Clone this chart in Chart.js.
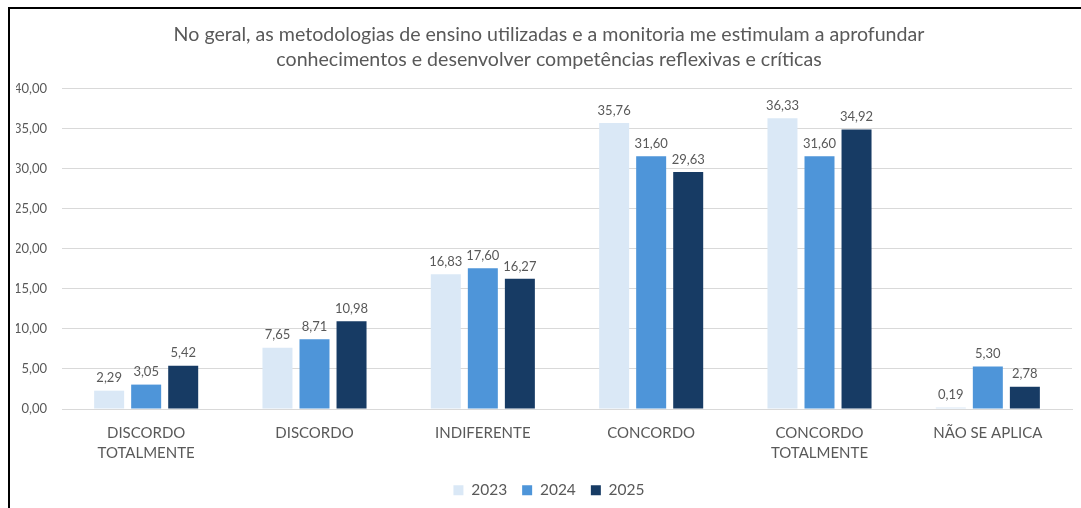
<!DOCTYPE html>
<html lang="pt">
<head>
    <meta charset="UTF-8">
    <title>Metodologias de ensino e monitoria</title>
    <style>
        body {
            margin: 0;
            padding: 0;
            background-color: #fff;
            overflow: hidden;
        }
        .frame {
            position: absolute;
            left: 8px;
            top: 7px;
            width: 1200px;
            height: 600px;
            border-left: 2px solid #000;
            border-top: 2px solid #000;
            pointer-events: none;
        }
        .chart-box {
            position: absolute;
            left: 16px;
            top: 0;
            width: 1066px;
            height: 508px;
        }
    </style>
</head>
<body>
    <div class="chart-box">
        <canvas id="chart" width="1066" height="508"></canvas>
    </div>
    <div class="frame"></div>
    <script src="https://cdn.jsdelivr.net/npm/chart.js@4/dist/chart.umd.min.js"></script>
    <script>
        const categories = [
            ['DISCORDO', 'TOTALMENTE'],
            'DISCORDO',
            'INDIFERENTE',
            'CONCORDO',
            ['CONCORDO', 'TOTALMENTE'],
            'NÃO SE APLICA'
        ];
        const years = ['2023', '2024', '2025'];
        const values2023 = [2.29, 7.65, 16.83, 35.76, 36.33, 0.19];
        const values2024 = [3.05, 8.71, 17.60, 31.60, 31.60, 5.30];
        const values2025 = [5.42, 10.98, 16.27, 29.63, 34.92, 2.78];
        const colors = ['#dae8f6', '#4e95d9', '#173b64'];

        const textColor = '#595959';
        const fontFamily = "Lato, 'Open Sans', sans-serif";

        const fmt = v => v.toFixed(2).replace('.', ',');

        // draws the number above each bar
        const valueLabels = {
            id: 'valueLabels',
            afterDatasetsDraw(chart) {
                const ctx = chart.ctx;
                ctx.save();
                ctx.font = '13px ' + fontFamily;
                ctx.fillStyle = textColor;
                ctx.textAlign = 'center';
                ctx.textBaseline = 'bottom';
                chart.data.datasets.forEach((ds, i) => {
                    const meta = chart.getDatasetMeta(i);
                    meta.data.forEach((bar, j) => {
                        ctx.fillText(fmt(ds.data[j]), bar.x, bar.y - 6);
                    });
                });
                ctx.restore();
            }
        };

        new Chart(document.getElementById('chart'), {
            type: 'bar',
            data: {
                labels: categories,
                datasets: [
                    { label: years[0], data: values2023, backgroundColor: colors[0] },
                    { label: years[1], data: values2024, backgroundColor: colors[1] },
                    { label: years[2], data: values2025, backgroundColor: colors[2] }
                ]
            },
            options: {
                responsive: false,
                animation: false,
                devicePixelRatio: 1,
                categoryPercentage: 0.66,
                barPercentage: 0.81,
                layout: {
                    padding: 0
                },
                plugins: {
                    title: {
                        display: true,
                        text: [
                            'No geral, as metodologias de ensino utilizadas e a monitoria me estimulam a aprofundar',
                            'conhecimentos e desenvolver competências reflexivas e críticas'
                        ],
                        color: textColor,
                        font: { family: fontFamily, size: 19.6, weight: 'normal', lineHeight: 1.3 },
                        padding: { top: 21.5, bottom: 16.5 }
                    },
                    legend: {
                        position: 'bottom',
                        labels: {
                            color: textColor,
                            font: { family: fontFamily, size: 15.5 },
                            boxWidth: 10,
                            boxHeight: 10,
                            padding: 15
                        }
                    },
                    tooltip: { enabled: false }
                },
                scales: {
                    x: {
                        grid: { display: false, drawTicks: false },
                        border: { color: '#d9d9d9' },
                        ticks: {
                            color: textColor,
                            font: { family: fontFamily, size: 15, lineHeight: 1.35 },
                            padding: 14,
                            maxRotation: 0,
                            autoSkip: false
                        },
                        // the wider legend padding would push the axis up
                        afterFit: scale => { scale.height -= 10; }
                    },
                    y: {
                        min: 0,
                        max: 40,
                        grid: { color: '#d9d9d9', drawTicks: false },
                        border: { display: false },
                        ticks: {
                            stepSize: 5,
                            color: textColor,
                            font: { family: fontFamily, size: 13 },
                            padding: 15,
                            callback: v => fmt(v)
                        },
                        afterFit: scale => { scale.width = 46; }
                    },
                    // empty right-hand strip so the title stays centred on the whole frame
                    yRight: {
                        position: 'right',
                        min: 0,
                        max: 40,
                        grid: { display: false, drawTicks: false },
                        border: { display: false },
                        ticks: { display: false },
                        afterFit: scale => { scale.width = 10; }
                    }
                }
            },
            plugins: [valueLabels]
        });
    </script>
</body>
</html>
